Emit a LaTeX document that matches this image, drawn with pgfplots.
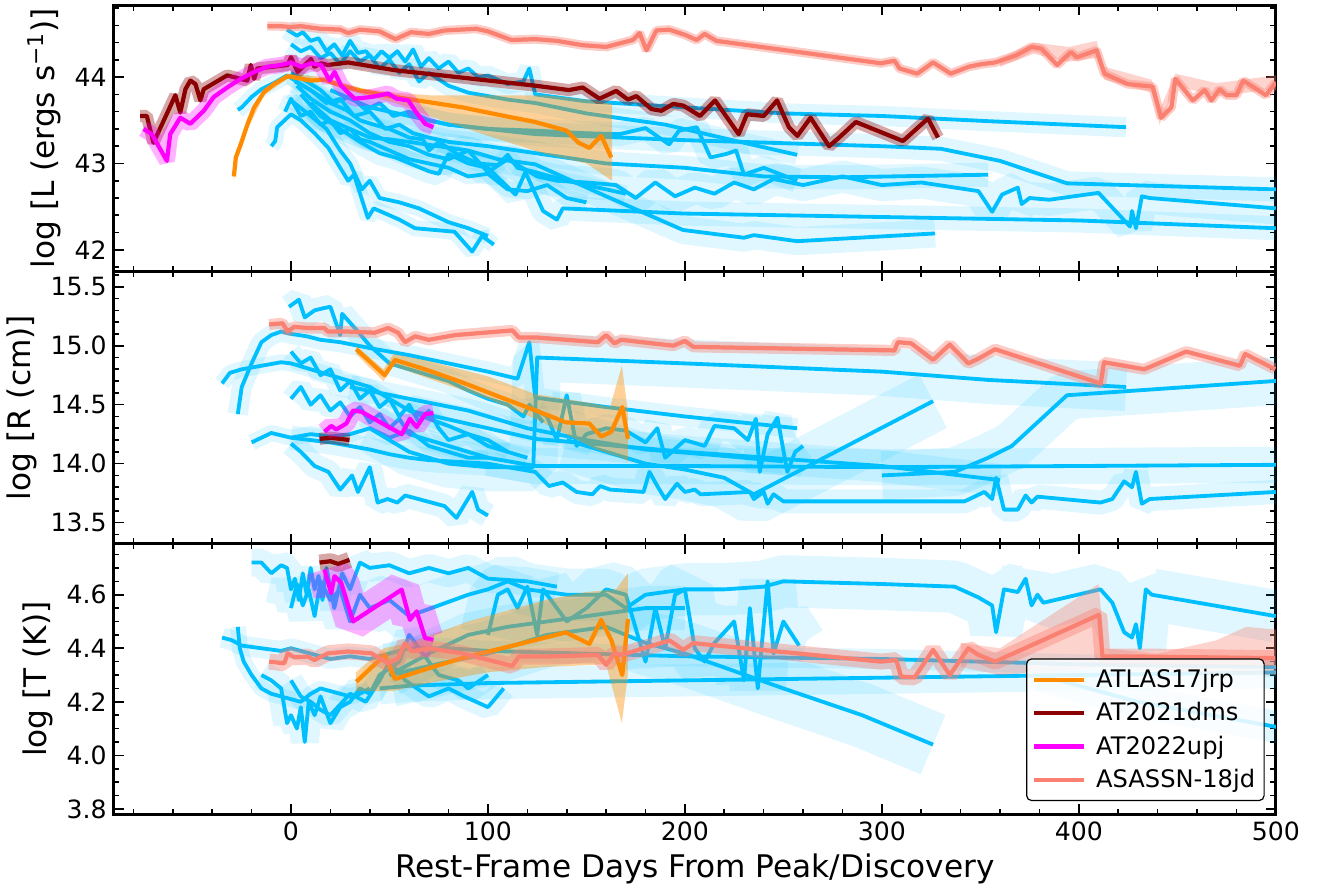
\documentclass[border=0pt]{standalone}
\usepackage{fontspec}
\setmainfont{DejaVu Sans}
\usepackage{pgfplots}
\usepackage{pgfplotstable}
\pgfplotsset{compat=1.18}
\definecolor{dsb}{RGB}{0,191,255}
\definecolor{dorange}{RGB}{255,140,0}
\definecolor{dred}{RGB}{139,0,0}
\definecolor{salm}{RGB}{250,128,114}
\definecolor{mag}{RGB}{255,0,255}

\newcommand{\bluband}[2]{\addplot[dsb, opacity=0.12, line width=#2, line cap=butt, line join=bevel, forget plot] table {#1};}
\newcommand{\blueline}[1]{\addplot[dsb, line width=1.9pt, line join=round, forget plot] table {#1};}
\newcommand{\nband}[4]{\addplot[#2, opacity=#4, line width=#3, line cap=butt, line join=bevel, forget plot] table {#1};}
\newcommand{\nline}[2]{\addplot[#2, line width=2.1pt, line join=round, forget plot] table {#1};}

% ---------- TOP (log L) ----------
\pgfplotstableread[row sep=\\]{x y\\ -2 44.55\\ 3 44.48\\ 6 44.52\\ 10 44.42\\ 14 44.45\\ 18 44.30\\ 22 44.38\\ 26 44.25\\ 30 44.42\\ 34 44.28\\ 38 44.30\\ 42 44.20\\ 46 44.30\\ 50 44.22\\ 54 44.30\\ 58 44.18\\ 62 44.32\\ 66 44.12\\ 70 44.22\\ 75 44.10\\ 80 44.18\\ 85 44.05\\ 90 44.10\\ 95 44.00\\ 100 44.02\\ 110 43.92\\ 118 43.95\\ 121 44.10\\ 124 43.80\\ 150 43.72\\ 200 43.65\\ 250 43.58\\ 300 43.55\\ 354 43.49\\ 424 43.42\\}\dTA
\pgfplotstableread[row sep=\\]{x y\\ 0 44.38\\ 5 44.30\\ 10 44.35\\ 15 44.22\\ 20 44.28\\ 25 44.15\\ 30 44.30\\ 35 44.18\\ 40 44.25\\ 45 44.10\\ 50 44.20\\ 55 44.05\\ 60 44.15\\ 65 43.95\\ 70 44.05\\ 80 43.90\\ 90 43.82\\ 100 43.78\\ 110 43.74\\ 124 43.70\\ 150 43.58\\ 190 43.45\\ 226 43.26\\ 257 43.10\\}\dTB
\pgfplotstableread[row sep=\\]{x y\\ 0 44.05\\ 8 43.95\\ 15 43.85\\ 22 43.70\\ 30 43.78\\ 38 43.62\\ 45 43.70\\ 52 43.55\\ 60 43.60\\ 70 43.50\\ 80 43.45\\ 100 43.40\\ 124 43.34\\ 200 43.27\\ 300 43.20\\ 330 43.17\\ 360 43.03\\ 394 42.77\\ 500 42.70\\}\dTC
\pgfplotstableread[row sep=\\]{x y\\ 2 43.95\\ 10 43.85\\ 18 43.70\\ 25 43.75\\ 32 43.55\\ 40 43.60\\ 48 43.40\\ 55 43.45\\ 62 43.35\\ 70 43.30\\ 80 43.25\\ 100 43.20\\ 130 43.10\\ 160 43.00\\ 200 42.95\\ 240 42.85\\ 280 42.84\\ 354 42.87\\}\dTD
\pgfplotstableread[row sep=\\]{x y\\ 3 43.90\\ 10 43.75\\ 20 43.60\\ 30 43.50\\ 40 43.35\\ 50 43.25\\ 60 43.20\\ 70 43.10\\ 80 43.05\\ 90 43.15\\ 100 42.90\\ 110 43.05\\ 125 42.85\\ 135 42.80\\ 150 42.78\\ 165 42.75\\ 175 42.60\\ 185 42.78\\ 195 42.62\\ 205 42.72\\ 215 42.65\\ 225 42.78\\ 235 42.70\\ 245 42.82\\ 260 42.75\\ 280 42.85\\ 300 42.75\\ 320 42.78\\ 349 42.68\\ 356 42.44\\ 361 42.64\\ 369 42.72\\ 371 42.53\\ 375 42.60\\ 385 42.58\\ 410 42.66\\ 426 42.27\\ 427 42.45\\ 429 42.25\\ 432 42.62\\ 436 42.60\\ 500 42.48\\}\dTE
\pgfplotstableread[row sep=\\]{x y\\ 5 43.80\\ 15 43.55\\ 25 43.40\\ 35 43.25\\ 45 43.12\\ 53 43.07\\ 70 42.91\\ 75 42.88\\ 80 43.11\\ 90 43.00\\ 100 42.95\\ 114 42.64\\ 119 42.90\\ 128 42.45\\ 135 42.35\\ 138 42.48\\ 200 42.42\\ 300 42.38\\ 400 42.34\\ 500 42.25\\}\dTF
\pgfplotstableread[row sep=\\]{x y\\ 10 43.70\\ 20 43.50\\ 30 43.40\\ 40 43.30\\ 50 43.28\\ 60 43.25\\ 75 43.20\\ 90 43.15\\ 105 43.05\\ 124 42.99\\ 160 42.62\\ 199 42.23\\ 230 42.14\\ 235 42.17\\ 257 42.10\\ 327 42.19\\}\dTG
\pgfplotstableread[row sep=\\]{x y\\ 20 43.85\\ 40 43.65\\ 60 43.55\\ 80 43.45\\ 100 43.40\\ 124 43.38\\ 150 43.35\\ 167 43.34\\ 180 43.41\\ 192 43.22\\ 197 43.38\\ 206 43.42\\ 213 43.07\\ 221 43.11\\ 226 43.15\\ 230 42.87\\ 240 42.95\\ 257 42.80\\}\dTH
\pgfplotstableread[row sep=\\]{x y\\ -10 43.20\\ -8 43.26\\ -7 43.42\\ 0 43.57\\ 5 43.50\\ 12 43.35\\ 19 43.18\\ 25 42.95\\ 29 42.80\\ 32 42.87\\ 39 42.37\\ 42 42.48\\ 49 42.41\\ 55 42.35\\ 63 42.25\\ 83 42.21\\ 92 41.98\\ 97 42.16\\ 103 42.06\\}\dTI
\pgfplotstableread[row sep=\\]{x y\\ 0 43.73\\ 9 43.57\\ 18 43.40\\ 25 43.15\\ 30 43.00\\ 33 42.85\\ 36 42.70\\ 40 42.80\\ 45 42.60\\ 55 42.55\\ 65 42.48\\ 80 42.32\\ 90 42.25\\ 100 42.16\\}\dTJ
\pgfplotstableread[row sep=\\]{x y\\ -27 43.62\\ -25 43.65\\ -20 43.77\\ -15 43.86\\ -8 43.94\\ -2 44.02\\ 5 43.92\\ 12 43.82\\ 20 43.70\\ 28 43.62\\ 35 43.50\\ 42 43.45\\ 50 43.40\\ 60 43.30\\ 67 43.28\\ 70 43.15\\ 75 43.25\\ 85 43.10\\ 95 43.00\\ 105 42.98\\ 110 43.10\\ 115 42.95\\ 124 42.90\\ 140 42.80\\ 160 42.70\\ 170 42.65\\}\dTK
\pgfplotstableread[row sep=\\]{x y\\ -3 43.60\\ 0 43.75\\ 5 43.55\\ 10 43.60\\ 15 43.45\\ 20 43.50\\ 25 43.35\\ 30 43.40\\ 35 43.28\\ 40 43.25\\ 50 43.15\\ 60 43.05\\ 70 43.00\\ 80 42.95\\ 90 42.85\\ 100 42.88\\ 110 42.70\\ 120 42.68\\ 130 42.75\\ 140 42.60\\ 150 42.55\\}\dTL

\pgfplotstableread[row sep=\\]{x y\\ -29 42.85\\ -28 43.07\\ -25.5 43.22\\ -22 43.46\\ -18.7 43.65\\ -13.6 43.83\\ -8.5 43.92\\ -1.7 44.01\\ 3.4 43.99\\ 10 43.96\\ 17 43.97\\ 25.5 43.90\\ 36 43.84\\ 53 43.77\\ 70 43.71\\ 87 43.65\\ 104 43.57\\ 124 43.48\\ 140 43.38\\ 146 43.24\\ 151.5 43.18\\ 157.5 43.32\\ 162.6 43.07\\}\nOt
\pgfplotstableread[row sep=\\]{x y\\ -76.6 43.55\\ -73.2 43.55\\ -69.8 43.24\\ -58.7 43.79\\ -56.2 43.59\\ -53.6 43.86\\ -51.1 43.96\\ -48.5 43.92\\ -46 43.73\\ -44.3 43.86\\ -32.4 44.02\\ -22.2 43.96\\ -20.4 44.14\\ -18.7 43.98\\ -17.1 44.10\\ -1.7 44.14\\ 0 44.23\\ 3.4 44.06\\ 10.2 44.21\\ 11.9 44.12\\ 15.3 44.16\\ 18.7 44.14\\ 28.9 44.17\\ 52.8 44.08\\ 124.3 43.90\\ 141.1 43.85\\ 148.1 43.88\\ 156.6 43.75\\ 165.1 43.84\\ 171.1 43.74\\ 175.4 43.78\\ 183 43.63\\ 188.1 43.61\\ 194.1 43.69\\ 199.2 43.67\\ 207.7 43.55\\ 215.3 43.73\\ 227.3 43.34\\ 231.5 43.57\\ 240 43.55\\ 246.8 43.73\\ 252.8 43.42\\ 257.1 43.32\\ 263.8 43.53\\ 273.2 43.20\\ 278.3 43.30\\ 286.8 43.48\\ 310.7 43.26\\ 323.4 43.52\\ 328.5 43.30\\}\nRt
\pgfplotstableread[row sep=\\]{x y\\ -74.9 43.40\\ -70.7 43.34\\ -63 43.03\\ -61.3 43.34\\ -56.2 43.53\\ -51.1 43.46\\ -44.3 43.61\\ -39.2 43.77\\ -32.4 43.88\\ -25.5 43.98\\ -18.7 44.06\\ -12 44.12\\ -5.1 44.14\\ 0 44.17\\ 5.1 44.12\\ 10.2 44.16\\ 15.3 44.14\\ 19.6 43.96\\ 22.1 44.06\\ 25.5 43.90\\ 32.3 43.75\\ 40.9 43.77\\ 49.3 43.81\\ 53.6 43.75\\ 59.6 43.73\\ 63 43.61\\ 68.1 43.46\\ 72.3 43.42\\}\nMt
\pgfplotstableread[row sep=\\]{x y\\ -12 44.59\\ -5 44.59\\ 0 44.58\\ 5 44.59\\ 15 44.56\\ 25 44.55\\ 29 44.51\\ 35 44.55\\ 45 44.53\\ 53 44.44\\ 61 44.52\\ 70 44.50\\ 78 44.54\\ 94 44.56\\ 100 44.53\\ 112 44.43\\ 124 44.44\\ 135 44.42\\ 148 44.37\\ 160 44.35\\ 173.6 44.43\\ 177 44.51\\ 180.5 44.31\\ 185.5 44.54\\ 192 44.55\\ 200 44.49\\ 206 44.43\\ 210 44.50\\ 216 44.42\\ 299.6 44.16\\ 306.4 44.19\\ 309 44.10\\ 318 44.04\\ 326 44.17\\ 335 44.04\\ 344 44.12\\ 350.6 44.15\\ 357.5 44.17\\ 368 44.25\\ 376 44.35\\ 381 44.33\\ 389 44.14\\ 396 44.29\\ 399 44.23\\ 409 44.31\\ 413 44.04\\ 424.7 43.92\\ 437.5 43.89\\ 441.8 43.53\\ 447 43.65\\ 449 43.98\\ 457.9 43.73\\ 463.9 43.85\\ 467.3 43.73\\ 471.5 43.86\\ 475 43.79\\ 480 43.79\\ 483.5 43.96\\ 495 43.79\\ 500 43.94\\}\nSt

% ---------- MIDDLE (log R) ----------
\pgfplotstableread[row sep=\\]{x y\\ -35 14.68\\ -31 14.77\\ -25 14.80\\ -15 14.83\\ -5 14.86\\ 0 14.85\\ 10 14.80\\ 20 14.75\\ 30 14.70\\ 40 14.65\\ 50 14.55\\ 60 14.45\\ 70 14.38\\ 80 14.32\\ 90 14.25\\ 100 14.20\\ 110 14.10\\ 120 14.05\\}\dMA
\pgfplotstableread[row sep=\\]{x y\\ -27 14.42\\ -25 14.65\\ -20 14.85\\ -15 15.03\\ -10 15.09\\ -5 15.12\\ 0 15.10\\ 8 15.08\\ 15 15.05\\ 25 15.03\\ 40 14.98\\ 60 14.92\\ 80 14.85\\ 100 14.78\\ 115 14.72\\ 121 15.03\\ 124 14.56\\ 160 14.48\\ 200 14.40\\ 257 14.30\\}\dMB
\pgfplotstableread[row sep=\\]{x y\\ 40 14.30\\ 60 14.10\\ 80 14.00\\ 100 13.97\\ 123 13.97\\ 125 14.90\\ 200 14.85\\ 300 14.78\\ 354 14.71\\ 424 14.65\\}\dMC
\pgfplotstableread[row sep=\\]{x y\\ 100 14.05\\ 124 13.98\\ 200 13.98\\ 300 13.97\\ 400 13.98\\ 500 13.99\\}\dMD
\pgfplotstableread[row sep=\\]{x y\\ 0 14.22\\ 10 14.20\\ 20 14.18\\ 30 14.15\\ 40 14.12\\ 50 14.08\\ 60 14.05\\ 70 14.03\\ 80 14.02\\ 100 14.00\\ 110 13.97\\ 124 13.93\\ 131 13.81\\ 138 13.84\\ 145 13.76\\ 153 13.74\\ 157 13.81\\ 162 13.78\\ 179 13.76\\ 182 13.93\\ 186 13.81\\ 190 13.70\\ 196 13.83\\ 200 13.76\\ 205 13.78\\ 208 13.74\\ 233 13.76\\ 235 13.70\\ 240 13.76\\ 242 13.66\\ 245 13.74\\ 250 13.68\\ 342 13.68\\ 352 13.76\\ 356 13.70\\ 358 13.88\\ 362 13.61\\ 369 13.61\\ 373 13.73\\ 376 13.67\\ 379 13.72\\ 411 13.67\\ 417 13.70\\ 423 13.85\\ 427 13.80\\ 429 13.93\\ 432 13.66\\ 436 13.70\\ 500 13.76\\}\dME
\pgfplotstableread[row sep=\\]{x y\\ 0 14.17\\ 5 14.10\\ 12 13.98\\ 19 13.93\\ 25 13.78\\ 31 13.90\\ 34 13.76\\ 40 13.97\\ 44 13.67\\ 49 13.70\\ 54 13.67\\ 58 13.73\\ 78 13.64\\ 84 13.54\\ 92 13.76\\ 95 13.61\\ 100 13.56\\}\dMF
\pgfplotstableread[row sep=\\]{x y\\ 140 14.20\\ 160 14.10\\ 180 14.00\\ 200 13.95\\ 220 13.88\\ 235 13.74\\ 326 14.53\\}\dMG
\pgfplotstableread[row sep=\\]{x y\\ 300 13.90\\ 337 13.93\\ 354 14.05\\ 366 14.15\\ 394 14.58\\ 499 14.70\\ 505 14.71\\}\dMH
\pgfplotstableread[row sep=\\]{x y\\ -1 15.33\\ 4 15.39\\ 7 15.24\\ 12 15.30\\ 17 15.32\\ 20 15.33\\ 25 15.09\\ 26 15.27\\ 34 15.12\\ 40 15.00\\ 50 14.85\\ 60 14.80\\ 70 14.75\\ 80 14.70\\ 90 14.62\\ 100 14.55\\ 110 14.50\\ 118 14.40\\ 121 14.50\\ 128 14.35\\}\dMI
\pgfplotstableread[row sep=\\]{x y\\ -20 14.18\\ -10 14.26\\ -5 14.24\\ 0 14.22\\ 10 14.25\\ 20 14.23\\ 30 14.25\\ 40 14.30\\ 50 14.22\\ 60 14.28\\ 70 14.15\\ 80 14.10\\ 90 14.05\\ 100 14.05\\}\dMJ
\pgfplotstableread[row sep=\\]{x y\\ 125 14.45\\ 130 14.40\\ 135 14.20\\ 140 14.58\\ 145 14.15\\ 150 14.25\\ 160 14.30\\ 170 14.28\\ 180 14.18\\ 186 14.30\\ 190 14.05\\ 200 14.20\\ 210 14.15\\ 215 14.32\\ 225 14.30\\ 232 14.20\\ 236 14.38\\ 238 13.93\\ 242 14.25\\ 247 14.39\\ 252 13.93\\ 256 14.10\\ 260 14.15\\}\dMK
\pgfplotstableread[row sep=\\]{x y\\ 30 14.65\\ 60 14.55\\ 90 14.45\\ 120 14.30\\ 150 14.20\\ 180 14.12\\ 210 14.08\\ 250 14.02\\}\dMM
\pgfplotstableread[row sep=\\]{x y\\ 60 14.45\\ 124 14.21\\ 200 14.10\\ 300 13.98\\ 360 13.86\\}\dMN
\pgfplotstableread[row sep=\\]{x y\\ 0 14.95\\ 5 14.85\\ 10 14.90\\ 15 14.75\\ 20 14.80\\ 25 14.62\\ 30 14.70\\ 35 14.55\\ 40 14.62\\ 45 14.48\\ 50 14.55\\ 55 14.40\\ 60 14.50\\ 65 14.35\\ 70 14.45\\ 75 14.30\\ 80 14.20\\ 90 14.25\\ 100 14.15\\ 110 14.10\\}\dMO
\pgfplotstableread[row sep=\\]{x y\\ 0 14.55\\ 5 14.65\\ 10 14.50\\ 15 14.58\\ 20 14.45\\ 25 14.52\\ 30 14.40\\ 35 14.48\\ 40 14.35\\ 45 14.42\\ 50 14.30\\ 55 14.38\\ 60 14.25\\ 70 14.20\\ 80 14.15\\ 90 14.10\\ 100 14.05\\}\dMP

\pgfplotstableread[row sep=\\]{x y\\ 33.2 14.97\\ 47.6 14.75\\ 52.8 14.88\\ 69.8 14.79\\ 86.8 14.69\\ 103.8 14.58\\ 124.3 14.45\\ 139.6 14.35\\ 151.5 14.34\\ 157.5 14.23\\ 162.6 14.27\\ 168.2 14.48\\ 171.1 14.21\\}\nOm
\pgfplotstableread[row sep=\\]{x y\\ 14.5 14.21\\ 20 14.22\\ 25 14.21\\ 29.7 14.20\\}\nRm
\pgfplotstableread[row sep=\\]{x y\\ 17 14.27\\ 20.4 14.32\\ 23 14.29\\ 28.1 14.34\\ 31.5 14.45\\ 35.8 14.44\\ 56.2 14.25\\ 60.4 14.38\\ 63.8 14.31\\ 68.1 14.42\\ 72.3 14.43\\}\nMm
\pgfplotstableread[row sep=\\]{x y\\ -11.1 15.18\\ -4.3 15.19\\ -1.7 15.12\\ 1.7 15.16\\ 8.5 15.15\\ 17 15.15\\ 18.7 15.12\\ 28.9 15.12\\ 42.5 15.11\\ 49.3 15.15\\ 54.4 15.11\\ 57.9 15.03\\ 63 15.08\\ 69.8 15.05\\ 83.4 15.09\\ 112.4 15.13\\ 115.7 15.07\\ 124.3 15.07\\ 155.8 15.03\\ 160 15.09\\ 164.3 15.02\\ 167.7 15.05\\ 194.1 15.00\\ 200 15.04\\ 204.3 14.99\\ 306.4 14.96\\ 308.1 15.03\\ 314.9 15.02\\ 326 14.88\\ 334.5 15.01\\ 343.9 14.85\\ 349 14.89\\ 357.5 14.97\\ 411.1 14.68\\ 412.8 14.86\\ 433.2 14.80\\ 454.5 14.95\\ 481.8 14.83\\ 484.4 14.93\\ 499.7 14.80\\}\nSm

% ---------- BOTTOM (log T) ----------
\pgfplotstableread[row sep=\\]{x y\\ -35 4.44\\ -30 4.43\\ -25 4.41\\ -15 4.40\\ -5 4.39\\ 0 4.40\\ 10 4.38\\ 20 4.36\\ 30 4.37\\ 40 4.36\\ 60 4.40\\ 80 4.40\\ 100 4.39\\ 150 4.38\\ 200 4.37\\ 300 4.36\\ 400 4.34\\ 500 4.33\\}\dBA
\pgfplotstableread[row sep=\\]{x y\\ -27 4.48\\ -26 4.40\\ -24 4.35\\ -20 4.30\\ -15 4.25\\ -10 4.23\\ -5 4.22\\ 0 4.21\\ 5 4.20\\ 10 4.23\\ 15 4.25\\ 20 4.24\\ 30 4.22\\ 35 4.23\\ 40 4.25\\}\dBB
\pgfplotstableread[row sep=\\]{x y\\ -20 4.72\\ -15 4.72\\ -10 4.68\\ -5 4.71\\ -2 4.70\\ 0 4.62\\ 2 4.66\\ 4 4.58\\ 6 4.68\\ 8 4.60\\ 10 4.70\\ 12 4.62\\ 14 4.67\\ 16 4.58\\ 18 4.70\\ 22 4.55\\ 26 4.68\\ 30 4.62\\ 35 4.72\\ 40 4.70\\ 50 4.71\\ 60 4.68\\ 70 4.70\\ 80 4.68\\ 90 4.70\\ 100 4.66\\ 120 4.65\\ 135 4.63\\}\dBC
\pgfplotstableread[row sep=\\]{x y\\ 0 4.55\\ 3 4.64\\ 6 4.56\\ 9 4.62\\ 12 4.52\\ 15 4.65\\ 20 4.58\\ 25 4.62\\ 30 4.50\\ 35 4.60\\ 40 4.55\\ 50 4.58\\ 60 4.52\\ 75 4.56\\ 90 4.60\\ 100 4.62\\ 110 4.65\\ 120 4.62\\ 140 4.60\\ 160 4.60\\ 170 4.55\\ 180 4.60\\ 200 4.62\\ 220 4.62\\ 240 4.63\\ 250 4.65\\ 300 4.64\\ 337 4.63\\ 349 4.59\\ 356 4.56\\ 358 4.46\\ 362 4.62\\ 369 4.61\\ 373 4.66\\ 376 4.56\\ 379 4.60\\ 382 4.57\\ 411 4.62\\ 417 4.57\\ 423 4.46\\ 427 4.44\\ 429 4.49\\ 431 4.40\\ 434 4.62\\ 437 4.60\\ 500 4.52\\}\dBD
\pgfplotstableread[row sep=\\]{x y\\ 50 4.30\\ 80 4.35\\ 100 4.38\\ 130 4.45\\ 160 4.48\\ 180 4.42\\ 200 4.38\\ 250 4.25\\ 290 4.15\\ 326 4.04\\}\dBE
\pgfplotstableread[row sep=\\]{x y\\ 45 4.25\\ 60 4.26\\ 100 4.27\\ 200 4.28\\ 300 4.29\\ 400 4.30\\ 500 4.31\\}\dBF
\pgfplotstableread[row sep=\\]{x y\\ 100 4.45\\ 105 4.60\\ 110 4.62\\ 115 4.55\\ 120 4.63\\ 125 4.45\\ 128 4.62\\ 135 4.55\\ 140 4.50\\ 150 4.55\\ 160 4.62\\ 170 4.60\\ 180 4.35\\ 185 4.55\\ 190 4.40\\ 195 4.60\\ 200 4.62\\ 205 4.40\\ 210 4.35\\ 215 4.42\\ 225 4.50\\ 230 4.28\\ 233 4.55\\ 237 4.25\\ 242 4.65\\ 245 4.38\\ 250 4.50\\ 258 4.41\\}\dBG
\pgfplotstableread[row sep=\\]{x y\\ -15 4.30\\ -10 4.28\\ -5 4.25\\ -2 4.12\\ 0 4.15\\ 3 4.10\\ 5 4.18\\ 7 4.05\\ 9 4.20\\ 12 4.15\\ 15 4.22\\ 20 4.12\\ 25 4.18\\ 30 4.20\\ 35 4.25\\ 40 4.23\\ 45 4.30\\ 55 4.35\\ 60 4.45\\ 65 4.40\\ 75 4.30\\ 85 4.28\\ 90 4.25\\ 100 4.30\\}\dBH
\pgfplotstableread[row sep=\\]{x y\\ 0 4.28\\ 5 4.22\\ 10 4.20\\ 15 4.17\\ 20 4.15\\ 25 4.19\\ 30 4.23\\ 38 4.20\\ 45 4.28\\ 50 4.35\\ 58 4.28\\ 70 4.22\\ 80 4.25\\ 88 4.22\\ 100 4.18\\ 108 4.25\\}\dBI
\pgfplotstableread[row sep=\\]{x y\\ 50 4.30\\ 70 4.38\\ 90 4.45\\ 110 4.48\\ 130 4.50\\ 160 4.53\\ 180 4.55\\ 200 4.55\\}\dBJ
\pgfplotstableread[row sep=\\]{x y\\ 380 4.30\\ 430 4.20\\ 505 4.10\\}\dBK

\pgfplotstableread[row sep=\\]{x y\\ 33.2 4.275\\ 47.6 4.375\\ 52.8 4.285\\ 69.8 4.325\\ 86.8 4.363\\ 103.8 4.394\\ 124.3 4.431\\ 139.6 4.459\\ 151.5 4.416\\ 157.5 4.506\\ 162.6 4.431\\ 168.2 4.30\\ 171.1 4.509\\}\nOb
\pgfplotstableread[row sep=\\]{x y\\ 14.5 4.72\\ 20 4.725\\ 24 4.715\\ 29.7 4.73\\}\nRb
\pgfplotstableread[row sep=\\]{x y\\ 17 4.694\\ 20.4 4.606\\ 22.1 4.669\\ 25.5 4.644\\ 31.5 4.50\\ 56.2 4.619\\ 60.4 4.506\\ 63.8 4.538\\ 68.1 4.438\\ 72.3 4.431\\}\nMb
\pgfplotstableread[row sep=\\]{x y\\ -11.1 4.35\\ -3.4 4.344\\ -1.7 4.381\\ 1.7 4.366\\ 8.5 4.369\\ 11.9 4.356\\ 18.7 4.381\\ 28.9 4.388\\ 40.9 4.381\\ 49.3 4.344\\ 54.4 4.363\\ 57.9 4.419\\ 61.3 4.388\\ 69.8 4.40\\ 86.8 4.381\\ 112.4 4.334\\ 115.7 4.369\\ 129.4 4.369\\ 155.8 4.375\\ 160 4.338\\ 164.3 4.381\\ 167.7 4.375\\ 192.3 4.429\\ 199.2 4.394\\ 204.3 4.419\\ 299.6 4.35\\ 307.3 4.356\\ 309.8 4.294\\ 316.6 4.291\\ 326 4.394\\ 334.5 4.30\\ 343.9 4.40\\ 349 4.375\\ 357.5 4.35\\ 410.3 4.525\\ 412 4.369\\ 432.4 4.369\\ 499.7 4.363\\}\nSb

\pgfplotsset{
  panel/.style={
    scale only axis, width=578pt,
    xmin=-90, xmax=500,
    xtick={0,100,...,500}, minor xtick={-80,-60,...,480},
    tick align=inside, xtick pos=both, ytick pos=both,
    axis line style={line width=1.5pt},
    tick style={black, line width=0.8pt},
    major tick length=5pt, minor tick length=2.8pt,
    tick label style={font=\fontsize{12.5}{14}\selectfont},
    label style={font=\fontsize{15.5}{18}\selectfont},
    /pgf/number format/assume math mode=true,
    clip=true,
  },
  legend image code/.code={\draw[#1, line cap=butt] (0pt,0pt) -- (25pt,0pt); \path (28pt,0pt);},
}

\begin{document}
\begin{tikzpicture}
% ================= TOP =================
\begin{axis}[panel, name=top, at={(0,0)}, anchor=north west, height=132.5pt,
  ymin=41.75, ymax=44.835, ytick={42,43,44}, minor ytick={41.8,42.0,...,44.8},
  xticklabels={}, ylabel={log [L (ergs s\textsuperscript{−1})]}]
\bluband{\dTA}{10pt}\bluband{\dTB}{10pt}\bluband{\dTC}{12pt}\bluband{\dTD}{12pt}
\bluband{\dTE}{16pt}\bluband{\dTF}{12pt}\bluband{\dTG}{14pt}\bluband{\dTH}{12pt}
\bluband{\dTI}{8pt}\bluband{\dTJ}{8pt}\bluband{\dTK}{8pt}\bluband{\dTL}{8pt}
\blueline{\dTA}\blueline{\dTB}\blueline{\dTC}\blueline{\dTD}\blueline{\dTE}\blueline{\dTF}
\blueline{\dTG}\blueline{\dTH}\blueline{\dTI}\blueline{\dTJ}\blueline{\dTK}\blueline{\dTL}
\addplot[fill=dorange, fill opacity=0.4, draw=none, forget plot] coordinates {(-29,42.92)(-28,43.14)(-22,43.52)(-13.6,43.87)(-1.7,44.04)(17,44.00)(36,43.87)(53,43.82)(70,43.79)(100,43.79)(129,43.79)(150,43.74)(163,43.69)(163,42.80)(150,43.00)(129,43.11)(100,43.32)(70,43.55)(53,43.70)(36,43.80)(17,43.94)(-1.7,43.98)(-13.6,43.79)(-22,43.40)(-28,43.00)(-29,42.78)} -- cycle;
\nline{\nOt}{dorange}
\nband{\nRt}{dred}{6pt}{0.35}
\nline{\nRt}{dred}
\nband{\nMt}{mag}{8pt}{0.3}
\nline{\nMt}{mag}
\addplot[fill=salm, fill opacity=0.35, draw=none, forget plot] coordinates {(360,44.22)(377,44.40)(395,44.35)(409,44.42)(413,44.12)(437,43.97)(441,43.62)(449,44.04)(470,43.93)(500,44.02)(500,43.86)(470,43.78)(449,43.90)(441,43.45)(437,43.82)(413,43.97)(409,44.22)(395,44.18)(377,44.27)(360,44.12)} -- cycle;
\nband{\nSt}{salm}{4.5pt}{0.4}
\nline{\nSt}{salm}
\end{axis}
% ================= MIDDLE =================
\begin{axis}[panel, name=mid, at={(top.south west)}, anchor=north west, height=135.5pt,
  ymin=13.32, ymax=15.63, ytick={13.5,14.0,14.5,15.0,15.5}, minor ytick={13.4,13.5,...,15.6},
  yticklabel style={/pgf/number format/.cd, fixed, fixed zerofill, precision=1},
  xticklabels={}, ylabel={log [R (cm)]}]
\bluband{\dMA}{8pt}\bluband{\dMB}{10pt}\bluband{\dMC}{24pt}\bluband{\dMD}{18pt}
\bluband{\dME}{12pt}\bluband{\dMF}{12pt}\bluband{\dMG}{30pt}\bluband{\dMH}{24pt}
\bluband{\dMI}{12pt}\bluband{\dMJ}{8pt}\bluband{\dMK}{14pt}\bluband{\dMM}{12pt}
\bluband{\dMN}{16pt}\bluband{\dMO}{10pt}\bluband{\dMP}{10pt}
\blueline{\dMA}\blueline{\dMB}\blueline{\dMC}\blueline{\dMD}\blueline{\dME}\blueline{\dMF}
\blueline{\dMG}\blueline{\dMH}\blueline{\dMI}\blueline{\dMJ}\blueline{\dMK}\blueline{\dMM}
\blueline{\dMN}\blueline{\dMO}\blueline{\dMP}
\addplot[fill=dorange, fill opacity=0.4, draw=none, forget plot] coordinates {(33,15.00)(47,14.80)(52,14.93)(70,14.87)(100,14.74)(124,14.59)(150,14.52)(162,14.48)(168,14.83)(171,14.45)(171,14.02)(168,14.05)(155,14.12)(124,14.38)(100,14.55)(70,14.72)(52,14.83)(47,14.70)(33,14.93)} -- cycle;
\nline{\nOm}{dorange}
\nband{\nRm}{dred}{6pt}{0.35}
\nline{\nRm}{dred}
\nband{\nMm}{mag}{9pt}{0.3}
\nline{\nMm}{mag}
\nband{\nSm}{salm}{5.5pt}{0.4}
\nline{\nSm}{salm}
\end{axis}
% ================= BOTTOM =================
\begin{axis}[panel, name=bot, at={(mid.south west)}, anchor=north west, height=134.5pt,
  ymin=3.78, ymax=4.79, ytick={3.8,4.0,4.2,4.4,4.6}, minor ytick={3.8,3.85,...,4.76},
  yticklabel style={/pgf/number format/.cd, fixed, fixed zerofill, precision=1},
  ylabel={log [T (K)]}, xlabel={Rest-Frame Days From Peak/Discovery},
  legend style={at={(rel axis cs:1,0)}, anchor=south east, xshift=-5.5pt, yshift=6.5pt,
    draw=black, line width=0.6pt, rounded corners=2.5pt, fill=white, fill opacity=0.85, text opacity=1,
    font=\fontsize{12}{14}\selectfont, row sep=2pt, inner xsep=2.5pt, inner ysep=3pt},
  legend cell align=left]
\bluband{\dBA}{10pt}\bluband{\dBB}{8pt}\bluband{\dBC}{14pt}\bluband{\dBD}{26pt}
\bluband{\dBE}{32pt}\bluband{\dBF}{16pt}\bluband{\dBG}{28pt}\bluband{\dBH}{14pt}
\bluband{\dBI}{12pt}\bluband{\dBJ}{22pt}\bluband{\dBK}{16pt}
\blueline{\dBA}\blueline{\dBB}\blueline{\dBC}\blueline{\dBD}\blueline{\dBE}\blueline{\dBF}
\blueline{\dBG}\blueline{\dBH}\blueline{\dBI}\blueline{\dBJ}\blueline{\dBK}
\addplot[fill=dorange, fill opacity=0.4, draw=none, forget plot] coordinates {(33,4.31)(47,4.40)(60,4.42)(90,4.50)(129,4.58)(150,4.61)(165,4.62)(171,4.68)(171,4.30)(168,4.12)(160,4.34)(129,4.33)(100,4.31)(70,4.27)(52,4.24)(33,4.24)} -- cycle;
\nline{\nOb}{dorange}
\nband{\nRb}{dred}{8pt}{0.35}
\nline{\nRb}{dred}
\nband{\nMb}{mag}{18pt}{0.3}
\nline{\nMb}{mag}
\addplot[fill=salm, fill opacity=0.35, draw=none, forget plot] coordinates {(340,4.42)(360,4.40)(410,4.64)(413,4.40)(440,4.38)(470,4.43)(485,4.48)(500,4.47)(500,4.30)(470,4.30)(440,4.32)(413,4.33)(360,4.30)(340,4.33)} -- cycle;
\nband{\nSb}{salm}{8pt}{0.4}
\nline{\nSb}{salm}
\addlegendimage{dorange, line width=2.1pt}\addlegendentry{ATLAS17jrp}
\addlegendimage{dred, line width=2.1pt}\addlegendentry{AT2021dms}
\addlegendimage{mag, line width=2.1pt}\addlegendentry{AT2022upj}
\addlegendimage{salm, line width=2.1pt}\addlegendentry{ASASSN-18jd}
\end{axis}
\path (top.north west) ++(0pt,2.5pt);
\path (bot.south east) ++(20.5pt,0pt);
\end{tikzpicture}
\end{document}
